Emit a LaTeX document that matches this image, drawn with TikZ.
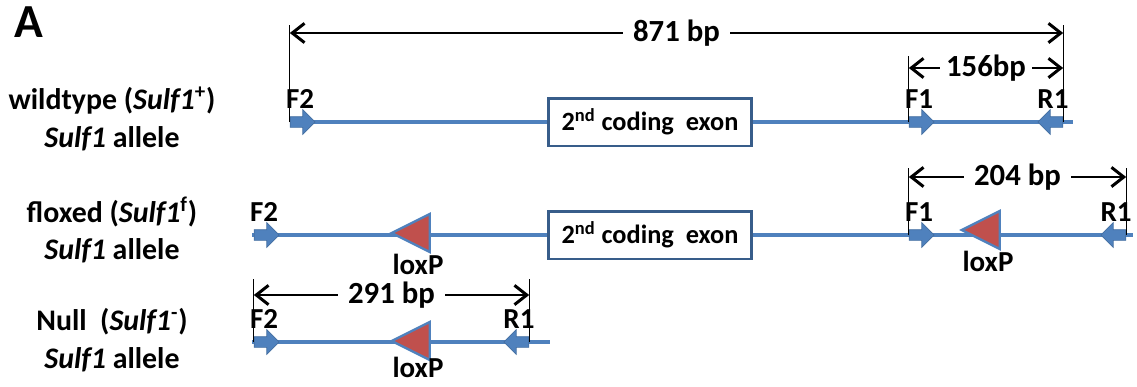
\documentclass[tikz,border=0pt]{standalone}
\usepackage{fontspec}
\setmainfont{Carlito}
\usetikzlibrary{shapes.arrows,shapes.geometric,arrows.meta,positioning}
\definecolor{dnablue}{RGB}{79,129,189}
\definecolor{boxblue}{RGB}{56,93,138}
\definecolor{loxred}{RGB}{192,80,77}
\tikzset{
  dna/.style={dnablue, line width=2pt},
  fwd/.style={single arrow, fill=dnablue, draw=dnablue!85!black, line width=0.4pt,
    minimum height=0.5cm, minimum width=0.48cm, single arrow head extend=0.14cm,
    inner sep=0.1cm},
  rev/.style={fwd, shape border rotate=180},
  loxp/.style={isosceles triangle, isosceles triangle stretches, shape border rotate=180,
    fill=loxred, draw=dnablue, line width=1.3pt, minimum height=0.76cm, minimum width=0.76cm,
    inner sep=0pt},
  exon/.style={draw=boxblue, line width=1.7pt, fill=white, minimum width=4.08cm,
    minimum height=0.96cm, font=\fontsize{15}{17}\selectfont\bfseries},
  primlab/.style={font=\fontsize{16.5}{18}\selectfont\bfseries, inner sep=1pt},
  allele/.style={align=center, font=\fontsize{17}{21.5}\selectfont\bfseries},
  tick/.style={black, line width=0.6pt},
  dim/.style={black, line width=1.7pt, {Straight Barb[length=7pt,width=11pt]}-{Straight Barb[length=7pt,width=11pt]}},
  dimlab/.style={fill=white, inner xsep=0.2cm, inner ysep=1pt, font=\fontsize{17.5}{19}\selectfont\bfseries},
}
\begin{document}
\begin{tikzpicture}[x=0.02cm,y=-0.02cm]
  \useasboundingbox (0,0) rectangle (1137,386);
  \node[font=\fontsize{27}{30}\selectfont\bfseries] (panel) at (29,22) {A};
  % wildtype
  \node[allele] (wtlab) at (112,119) {wildtype (\textit{Sulf1}\textsuperscript{+})\\\textit{Sulf1} allele};
  \coordinate (wts) at (290,122);
  \coordinate (wte) at (1073,122);
  \draw[dna] (wts) -- (wte);
  \node[exon] (wtexon) at (650,122) {2\textsuperscript{nd}\ coding\ \ exon};
  \node[fwd] (wtF2) at (300,122) {};
  \node[fwd] (wtF1) at (919,122) {};
  \node[rev] (wtR1) at (1053,122) {};
  \node[primlab, above=0.12cm of wtF2] {F2};
  \node[primlab, above=0.12cm of wtF1] {F1};
  \node[primlab, above=0.12cm of wtR1] {R1};
  \draw[tick] (wtF2.tail) -- (wtF2.tail |- 0,25);
  \draw[tick] (wtR1.tail) -- (wtR1.tail |- 0,25);
  \draw[tick] (wtF1.tail) -- (wtF1.tail |- 0,56);
  \draw[dim] (wtF2.tail |- 0,33) -- node[dimlab] {871 bp} (wtR1.tail |- 0,33);
  \draw[dim] (wtF1.tail |- 0,68) -- node[dimlab, inner xsep=0.12cm] {156bp} (wtR1.tail |- 0,68);
  % floxed
  \node[allele] (flab) at (112,230) {floxed (\textit{Sulf1}\textsuperscript{f})\\\textit{Sulf1} allele};
  \coordinate (fs) at (252,235);
  \coordinate (fe) at (1133,235);
  \draw[dna] (fs) -- (fe);
  \node[exon] (fexon) at (650,235) {2\textsuperscript{nd}\ coding\ \ exon};
  \node[loxp] (flox1) at (418,233) {};
  \node[loxp] (flox2) at (988,230) {};
  \node[primlab, below=0.1cm of flox1] {loxP};
  \node[primlab, below=0.1cm of flox2] {loxP};
  \node[fwd] (fF2) at (264,235) {};
  \node[fwd] (fF1) at (919,235) {};
  \node[rev] (fR1) at (1116,235) {};
  \node[primlab, above=0.12cm of fF2] {F2};
  \node[primlab, above=0.12cm of fF1] {F1};
  \node[primlab, above=0.12cm of fR1] {R1};
  \draw[tick] (fF1.tail) -- (fF1.tail |- 0,168);
  \draw[tick] (fR1.tail) -- (fR1.tail |- 0,168);
  \draw[dim] (fF1.tail |- 0,177) -- node[dimlab] {204 bp} (fR1.tail |- 0,177);
  % null
  \node[allele] (nlab) at (112,340) {Null\ \ (\textit{Sulf1}\textsuperscript{-})\\\textit{Sulf1} allele};
  \coordinate (ns) at (252,342);
  \coordinate (ne) at (550,342);
  \draw[dna] (ns) -- (ne);
  \node[loxp] (nlox) at (418,341) {};
  \node[primlab, below=0cm of nlox] {loxP};
  \node[fwd] (nF2) at (264,342) {};
  \node[rev] (nR1) at (519,342) {};
  \node[primlab, above=0.12cm of nF2] {F2};
  \node[primlab, above=0.12cm of nR1] {R1};
  \draw[tick] (nF2.tail) -- (nF2.tail |- 0,279);
  \draw[tick] (nR1.tail) -- (nR1.tail |- 0,279);
  \draw[dim] (nF2.tail |- 0,295) -- node[dimlab] {291 bp} (nR1.tail |- 0,295);
\end{tikzpicture}
\end{document}
